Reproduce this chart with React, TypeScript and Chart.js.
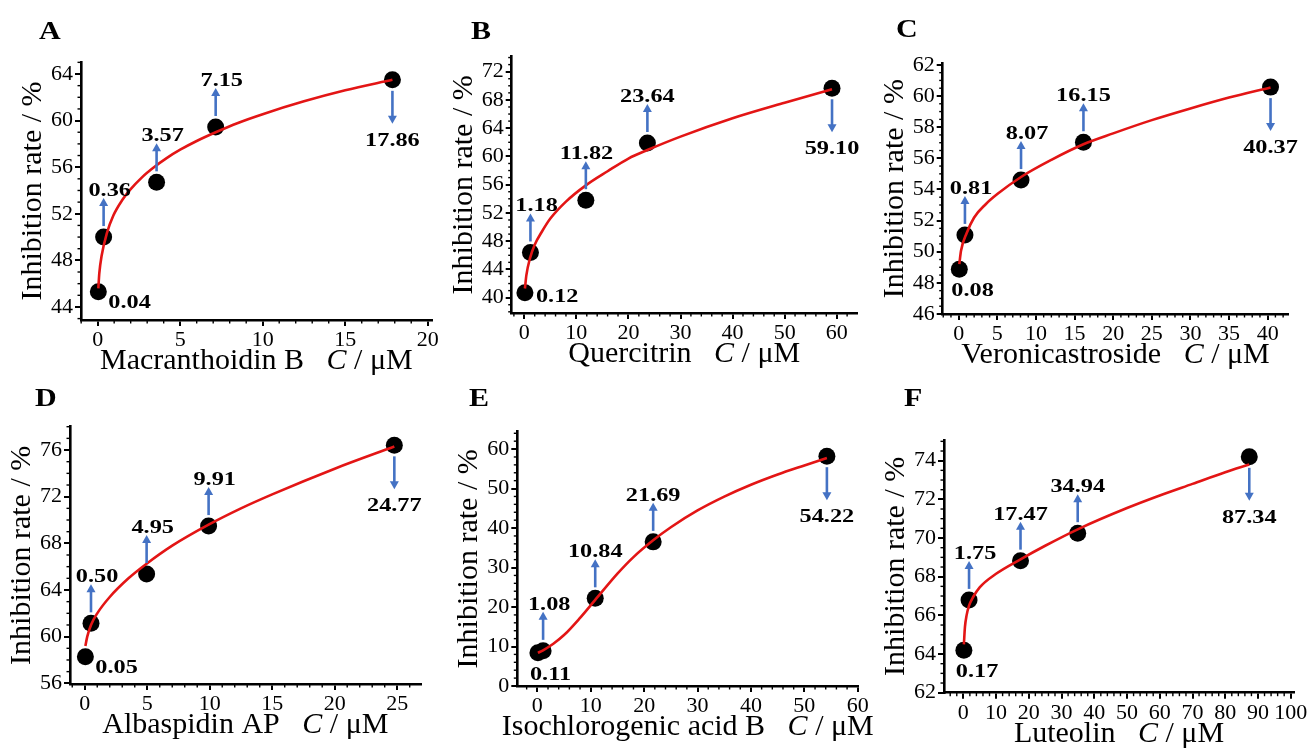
import React, { useEffect, useRef } from "react";
import { Chart, registerables } from "chart.js";

Chart.register(...registerables);

const W = 1311;
const H = 756;
const SERIF = "Liberation Serif";
const SERIF_CSS = '"Liberation Serif", serif';
const BLUE = "#4472c4";
const RED = "#e31515";

// ---------- Panel A: Macranthoidin B ----------
const concA = [0.04, 0.36, 3.57, 7.15, 17.86];
const rateA = [45.3, 50.0, 54.7, 59.45, 63.5];
const fitXA = [0.04, 0.1, 0.24, 0.55, 0.95, 1.5, 1.96, 2.7, 3.37, 4.2, 5, 6, 7.15, 8.5, 10, 12.5, 15, 17.86];
const fitYA = [45.6, 46.9, 48.4, 50.3, 51.85, 53.2, 54.05, 55.15, 55.95, 56.8, 57.5, 58.25, 59.0, 59.8, 60.55, 61.65, 62.6, 63.5];
const xTicksA = [0, 5, 10, 15, 20];
const yTicksA = [44, 48, 52, 56, 60, 64];

// ---------- Panel B: Quercitrin ----------
const concB = [0.12, 1.18, 11.82, 23.64, 59.1];
const rateB = [40.7, 46.4, 53.8, 61.9, 69.65];
const fitXB = [0.12, 0.4, 1.1, 2, 3.34, 5, 8, 11.82, 16, 20, 23.64, 30, 40, 50, 59.1];
const fitYB = [41.3, 43.2, 45.6, 47.5, 49.3, 51.2, 53.6, 55.9, 57.9, 59.7, 60.9, 62.8, 65.4, 67.6, 69.5];
const xTicksB = [0, 10, 20, 30, 40, 50, 60];
const yTicksB = [40, 44, 48, 52, 56, 60, 64, 68, 72];

// ---------- Panel C: Veronicastroside ----------
const concC = [0.08, 0.81, 8.07, 16.15, 40.37];
const rateC = [48.87, 51.08, 54.6, 57.03, 60.57];
const fitXC = [0.08, 0.3, 1.04, 2, 3.5, 5, 8.07, 12, 16.15, 20, 25, 30, 35, 40.37];
const fitYC = [49.2, 50.06, 51.2, 52.2, 53.05, 53.7, 54.8, 55.9, 56.9, 57.6, 58.45, 59.2, 59.9, 60.55];
const xTicksC = [0, 5, 10, 15, 20, 25, 30, 35, 40];
const yTicksC = [46, 48, 50, 52, 54, 56, 58, 60, 62];

// ---------- Panel D: Albaspidin AP ----------
const concD = [0.05, 0.5, 4.95, 9.91, 24.77];
const rateD = [58.28, 61.14, 65.37, 69.48, 76.4];
const fitXD = [0.05, 0.2, 0.5, 1, 2, 3.5, 4.95, 7, 9.91, 12.5, 15, 20, 24.77];
const fitYD = [59.2, 60.0, 61.0, 62.0, 63.4, 65.0, 66.25, 67.8, 69.6, 71.0, 72.2, 74.4, 76.3];
const xTicksD = [0, 5, 10, 15, 20, 25];
const yTicksD = [56, 60, 64, 68, 72, 76];

// ---------- Panel E: Isochlorogenic acid B ----------
const concE = [0.11, 1.08, 10.84, 21.69, 54.22];
const rateE = [8.4, 8.9, 22.2, 36.5, 58.2];
const fitXE = [0.11, 1.08, 3, 5, 8, 10.84, 15, 18, 21.69, 25, 30, 35, 40, 45, 50, 54.22];
const fitYE = [8.4, 9.05, 10.7, 12.9, 17.25, 21.8, 28.45, 32.65, 36.9, 40.2, 44.45, 47.95, 50.95, 53.55, 55.85, 57.75];
const xTicksE = [0, 10, 20, 30, 40, 50, 60];
const yTicksE = [0, 10, 20, 30, 40, 50, 60];

// ---------- Panel F: Luteolin ----------
const concF = [0.17, 1.75, 17.47, 34.94, 87.34];
const rateF = [64.2, 66.8, 68.83, 70.25, 74.2];
const fitXF = [0.17, 0.5, 1, 1.75, 3, 5, 10, 17.47, 25, 34.94, 50, 60, 70, 80, 87.34];
const fitYF = [64.5, 65.4, 66.0, 66.5, 66.95, 67.45, 68.15, 68.9, 69.6, 70.45, 71.55, 72.2, 72.8, 73.4, 73.8];
const xTicksF = [0, 10, 20, 30, 40, 50, 60, 70, 80, 90, 100];
const yTicksF = [62, 64, 66, 68, 70, 72, 74];

const compoundNames = [
  "Macranthoidin B",
  "Quercitrin",
  "Veronicastroside",
  "Albaspidin AP",
  "Isochlorogenic acid B",
  "Luteolin",
];
const panelLetters = ["A", "B", "C", "D", "E", "F"];

type Area = { l: number; t: number; r: number; b: number };
type Panel = {
  letter: string;
  name: string;
  conc: number[];
  rate: number[];
  fitX: number[];
  fitY: number[];
  xTicks: number[];
  yTicks: number[];
  area: Area;
  xRange: [number, number];
  yRange: [number, number];
  place: string[];
  letterPos: [number, number];
  xMinor: number;
  yMinor: number;
};

const panels: Panel[] = [
  {
    letter: panelLetters[0], name: compoundNames[0], conc: concA, rate: rateA, fitX: fitXA, fitY: fitYA,
    xTicks: xTicksA, yTicks: yTicksA,
    area: { l: 81, t: 62, r: 431.7, b: 320 }, xRange: [-1.01, 20.24], yRange: [42.88, 65.03],
    place: ["right", "up", "up", "up", "down"], letterPos: [39, 39], xMinor: 1, yMinor: 1,
  },
  {
    letter: panelLetters[1], name: compoundNames[1], conc: concB, rate: rateB, fitX: fitXB, fitY: fitYB,
    xTicks: xTicksB, yTicks: yTicksB,
    area: { l: 511.7, t: 56.7, r: 856.7, b: 313 }, xRange: [-2.42, 63.84], yRange: [37.83, 74.12],
    place: ["rightMid", "up", "up", "up", "down"], letterPos: [471, 39], xMinor: 2, yMinor: 1,
  },
  {
    letter: panelLetters[2], name: compoundNames[2], conc: concC, rate: rateC, fitX: fitXC, fitY: fitYC,
    xTicks: xTicksC, yTicks: yTicksC,
    area: { l: 942.7, t: 63.3, r: 1288.3, b: 314 }, xRange: [-2.07, 42.67], yRange: [46, 62.1],
    place: ["below", "up", "up", "up", "down"], letterPos: [896, 37], xMinor: 1, yMinor: 0.5,
  },
  {
    letter: panelLetters[3], name: compoundNames[3], conc: concD, rate: rateD, fitX: fitXD, fitY: fitYD,
    xTicks: xTicksD, yTicks: yTicksD,
    area: { l: 70, t: 426.7, r: 420.7, b: 684 }, xRange: [-1.18, 26.88], yRange: [55.94, 78.0],
    place: ["right", "up", "up", "up", "down"], letterPos: [35, 406], xMinor: 1, yMinor: 1,
  },
  {
    letter: panelLetters[4], name: compoundNames[4], conc: concE, rate: rateE, fitX: fitXE, fitY: fitYE,
    xTicks: xTicksE, yTicks: yTicksE,
    area: { l: 517.3, t: 431.7, r: 858.3, b: 686 }, xRange: [-3.75, 60.1], yRange: [0, 64.4],
    place: ["below", "up", "up", "up", "down"], letterPos: [469, 406], xMinor: 2, yMinor: 2,
  },
  {
    letter: panelLetters[5], name: compoundNames[5], conc: concF, rate: rateF, fitX: fitXF, fitY: fitYF,
    xTicks: xTicksF, yTicks: yTicksF,
    area: { l: 944, t: 440, r: 1294, b: 692.7 }, xRange: [-5.9, 101.0], yRange: [62, 75.07],
    place: ["below", "up", "up", "up", "down"], letterPos: [904, 406], xMinor: 2, yMinor: 0.5,
  },
];

const YW = 50; // fixed y-axis box width
const XH = 40; // fixed x-axis box height

function drawStretched(ctx: CanvasRenderingContext2D, text: string, x: number, y: number, font: string, sx: number) {
  ctx.save();
  ctx.font = font;
  ctx.translate(x, y);
  ctx.scale(sx, 1);
  ctx.textAlign = "left";
  ctx.textBaseline = "alphabetic";
  ctx.fillStyle = "#000";
  ctx.fillText(text, 0, 0);
  ctx.restore();
}

function drawArrow(ctx: CanvasRenderingContext2D, x: number, y0: number, tip: number) {
  const dir = Math.sign(tip - y0);
  const head = 8;
  ctx.save();
  ctx.strokeStyle = BLUE;
  ctx.fillStyle = BLUE;
  ctx.lineWidth = 2.6;
  ctx.beginPath();
  ctx.moveTo(x, y0);
  ctx.lineTo(x, tip - dir * (head - 1));
  ctx.stroke();
  ctx.beginPath();
  ctx.moveTo(x, tip);
  ctx.lineTo(x - 4.5, tip - dir * head);
  ctx.lineTo(x + 4.5, tip - dir * head);
  ctx.closePath();
  ctx.fill();
  ctx.restore();
}

function makeDecor(p: Panel) {
  return {
    id: "decor" + p.letter,
    afterDraw(chart: any) {
      const ctx: CanvasRenderingContext2D = chart.ctx;
      const xs = chart.scales.x;
      const ys = chart.scales.y;
      const ca = chart.chartArea;
      ctx.save();

      // minor ticks
      ctx.strokeStyle = "#000";
      ctx.lineWidth = 1.4;
      const isMajor = (arr: number[], v: number) => arr.some((m) => Math.abs(m - v) < 1e-6);
      for (let v = Math.ceil(p.yRange[0] / p.yMinor) * p.yMinor; v <= p.yRange[1] + 1e-9; v += p.yMinor) {
        if (isMajor(p.yTicks, v)) continue;
        const y = ys.getPixelForValue(v);
        ctx.beginPath();
        ctx.moveTo(ca.left, y);
        ctx.lineTo(ca.left - 3.5, y);
        ctx.stroke();
      }
      for (let v = Math.ceil(p.xRange[0] / p.xMinor) * p.xMinor; v <= p.xRange[1] + 1e-9; v += p.xMinor) {
        if (isMajor(p.xTicks, v)) continue;
        const x = xs.getPixelForValue(v);
        ctx.beginPath();
        ctx.moveTo(x, ca.bottom);
        ctx.lineTo(x, ca.bottom + 3.5);
        ctx.stroke();
      }

      // arrows + concentration labels
      const lblFont = `bold 18px ${SERIF_CSS}`;
      const sx = 1.35;
      p.conc.forEach((c, i) => {
        const px = xs.getPixelForValue(c);
        const py = ys.getPixelForValue(p.rate[i]);
        const label = c.toFixed(2);
        const mode = p.place[i];
        ctx.font = lblFont;
        const intPart = label.split(".")[0];
        const shift = (ctx.measureText(intPart).width + ctx.measureText(".").width / 2) * sx;
        if (mode === "up") {
          drawArrow(ctx, px, py - 11, py - 39);
          drawStretched(ctx, label, px - shift, py - 41, lblFont, sx);
        } else if (mode === "down") {
          drawArrow(ctx, px, py + 11, py + 44);
          drawStretched(ctx, label, px - shift, py + 66, lblFont, sx);
        } else if (mode === "right") {
          drawStretched(ctx, label, px + 10, py + 16, lblFont, sx);
        } else if (mode === "rightMid") {
          drawStretched(ctx, label, px + 11, py + 9, lblFont, sx);
        } else if (mode === "below") {
          drawStretched(ctx, label, px - 8, py + 27, lblFont, sx);
        }
      });

      // panel letter
      drawStretched(ctx, p.letter, p.letterPos[0], p.letterPos[1], `bold 25px ${SERIF_CSS}`, 1.2);

      // y-axis title
      ctx.save();
      ctx.font = `30px ${SERIF_CSS}`;
      ctx.fillStyle = "#000";
      ctx.translate(ca.left - 40, (ca.top + ca.bottom) / 2);
      ctx.rotate(-Math.PI / 2);
      ctx.textAlign = "center";
      ctx.textBaseline = "alphabetic";
      ctx.fillText("Inhibition rate / %", 0, 0);
      ctx.restore();

      // x-axis title with italic C
      const parts: [string, string][] = [
        [p.name + "   ", `30px ${SERIF_CSS}`],
        ["C", `italic 30px ${SERIF_CSS}`],
        [" / \u03bcM", `30px ${SERIF_CSS}`],
      ];
      let total = 0;
      parts.forEach(([t, f]) => {
        ctx.font = f;
        total += ctx.measureText(t).width;
      });
      let cx = (ca.left + ca.right) / 2 - total / 2;
      const by = ca.bottom + 49;
      ctx.fillStyle = "#000";
      ctx.textAlign = "left";
      ctx.textBaseline = "alphabetic";
      parts.forEach(([t, f]) => {
        ctx.font = f;
        ctx.fillText(t, cx, by);
        cx += ctx.measureText(t).width;
      });

      ctx.restore();
    },
  };
}

function axisOptions(min: number, max: number, ticks: number[], kind: "x" | "y") {
  return {
    type: "linear" as const,
    position: kind === "x" ? ("bottom" as const) : ("left" as const),
    min,
    max,
    afterBuildTicks: (s: any) => {
      s.ticks = ticks.map((v) => ({ value: v }));
    },
    afterFit: (s: any) => {
      if (kind === "x") s.height = XH;
      else s.width = YW;
    },
    ticks: {
      autoSkip: false,
      maxRotation: 0,
      minRotation: 0,
      color: "#000",
      font: { family: SERIF, size: 22, weight: "normal" },
      padding: kind === "x" ? 1 : 2,
    },
    grid: {
      display: true,
      drawOnChartArea: false,
      drawTicks: true,
      tickLength: 6,
      tickWidth: 2,
      tickColor: "#000",
      color: "#000",
      lineWidth: 2,
    },
    border: { display: true, color: "#000", width: 2.6 },
    title: { display: false },
  };
}

export default function App() {
  const refs = useRef<(HTMLCanvasElement | null)[]>([]);

  useEffect(() => {
    const charts = panels.map((p, k) => {
      const canvas = refs.current[k] as HTMLCanvasElement;
      return new Chart(canvas, {
        type: "scatter",
        data: {
          datasets: [
            {
              type: "line",
              data: p.fitX.map((x, i) => ({ x, y: p.fitY[i] })),
              borderColor: RED,
              backgroundColor: RED,
              borderWidth: 2.6,
              pointRadius: 0,
              fill: false,
              cubicInterpolationMode: "monotone",
              clip: false,
            } as any,
            {
              type: "scatter",
              data: p.conc.map((x, i) => ({ x, y: p.rate[i] })),
              backgroundColor: "#000",
              borderColor: "#000",
              borderWidth: 0,
              pointRadius: 8.5,
              clip: false,
            } as any,
          ],
        },
        options: {
          responsive: false,
          animation: false,
          devicePixelRatio: 1,
          events: [],
          layout: {
            padding: {
              left: p.area.l - YW,
              right: W - p.area.r,
              top: p.area.t,
              bottom: H - p.area.b - XH,
            },
          },
          plugins: { legend: { display: false }, tooltip: { enabled: false } },
          scales: {
            x: axisOptions(p.xRange[0], p.xRange[1], p.xTicks, "x"),
            y: axisOptions(p.yRange[0], p.yRange[1], p.yTicks, "y"),
          } as any,
        },
        plugins: [makeDecor(p)],
      });
    });
    return () => charts.forEach((c) => c.destroy());
  }, []);

  return (
    <div
      style={{
        position: "absolute",
        left: 0,
        top: 0,
        width: W,
        height: H,
        background: "#fff",
        overflow: "hidden",
      }}
    >
      {panels.map((p, k) => (
        <canvas
          key={p.letter}
          ref={(el) => {
            refs.current[k] = el;
          }}
          width={W}
          height={H}
          style={{ position: "absolute", left: 0, top: 0, width: W, height: H, pointerEvents: "none" }}
        />
      ))}
    </div>
  );
}
